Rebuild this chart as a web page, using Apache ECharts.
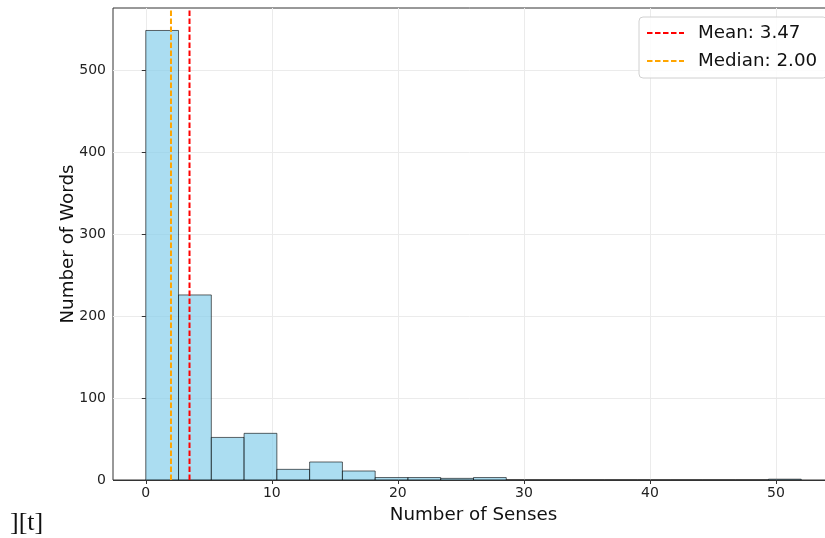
<!DOCTYPE html>
<html><head><meta charset="utf-8">
<script src="https://cdn.jsdelivr.net/npm/echarts@6/dist/echarts.min.js"></script>
<style>html,body{margin:0;padding:0;background:#fff}#c{width:825px;height:538px}</style>
</head><body><div id="c"></div>
<script>
// Histogram data
const binStarts = [0,2.6,5.2,7.8,10.4,13,15.6,18.2,20.8,23.4,26,28.6,31.2,33.8,36.4,39,41.6,44.2,46.8,49.4];
const binWidth = 2.6;
const counts = [549,226,52,57,13,22,11,3,3,2,3,0,0,0,0,0,0,0,0,1];
const meanValue = 3.47;
const medianValue = 2.00;
const xTicks = [0,10,20,30,40,50];
const yTicks = [0,100,200,300,400,500];
const xMin = -2.6, xMax = 54.6, yMax = 576.45;

const chart = echarts.init(document.getElementById('c'), null, {renderer:'canvas'});
const font = 'DejaVu Sans';
const histData = binStarts.map((s,i)=>[s, s+binWidth, counts[i]]);
chart.setOption({
  animation:false,
  grid:{left:113, width:721, top:8, height:472, outerBoundsMode:'none', containLabel:false,
    show:true, borderColor:'#333', borderWidth:1, z:0},
  xAxis:{type:'value', min:xMin, max:xMax, interval:10,
    name:'Number of Senses', nameLocation:'middle', nameGap:26, nameMoveOverlap:false,
    nameTextStyle:{fontFamily:font, fontSize:18.3, color:'#111'},
    axisLine:{show:false}, axisTick:{show:true, length:4, lineStyle:{color:'#333'}, customValues: xTicks},
    axisLabel:{fontFamily:font, fontSize:14, color:'#222', margin:6, customValues: xTicks},
    splitLine:{show:true, lineStyle:{color:'#ebebeb', width:1}}},
  yAxis:{type:'value', min:0, max:yMax, interval:100,
    name:'Number of Words', nameLocation:'middle', nameGap:35.5, nameMoveOverlap:false,
    nameTextStyle:{fontFamily:font, fontSize:18.3, color:'#111'},
    axisLine:{show:false}, axisTick:{show:true, length:4, lineStyle:{color:'#333'}, customValues: yTicks},
    axisLabel:{fontFamily:font, fontSize:14, color:'#222', margin:7, customValues: yTicks},
    splitLine:{show:true, lineStyle:{color:'#ebebeb', width:1}}},
  legend:{left:639, top:17, orient:'vertical', itemWidth:37, itemHeight:14, itemGap:10,
    padding:[7,10,8,7], backgroundColor:'rgba(255,255,255,0.85)', borderColor:'#d0d0d0', borderWidth:1, borderRadius:4,
    itemStyle:{opacity:0},
    textStyle:{fontFamily:font, fontSize:18.3, color:'#111', padding:[0,0,0,9]},
    data:['Mean: 3.47','Median: 2.00']},
  series:[
    {type:'custom', name:'hist', data:histData, z:2,
      renderItem:function(params, api){
        const p0 = api.coord([api.value(0), api.value(2)]);
        const p1 = api.coord([api.value(1), 0]);
        return {type:'rect', shape:{x:p0[0], y:p0[1], width:p1[0]-p0[0], height:p1[1]-p0[1]},
          style:{fill:'rgba(135,206,235,0.7)', stroke:'rgba(0,0,0,0.6)', lineWidth:1}};
      }},
    {type:'line', name:'Mean: 3.47', data:[[meanValue,0],[meanValue,yMax]], symbol:'none', z:3,
      color:'#ff0000', lineStyle:{color:'#ff0000', width:2, type:[5.5,2.5]}},
    {type:'line', name:'Median: 2.00', data:[[medianValue,0],[medianValue,yMax]], symbol:'none', z:3,
      color:'#ffa500', lineStyle:{color:'#ffa500', width:2, type:[5.5,2.5]}}
  ],
  graphic:[
    {type:'line', shape:{x1:113, y1:480.5, x2:825, y2:480.5}, style:{stroke:'#333', lineWidth:1}, z:10},
    {type:'text', left:10, top:510, style:{text:'][t]', font:'26px "Liberation Serif"', fill:'#111'}}
  ]
});
</script></body></html>
